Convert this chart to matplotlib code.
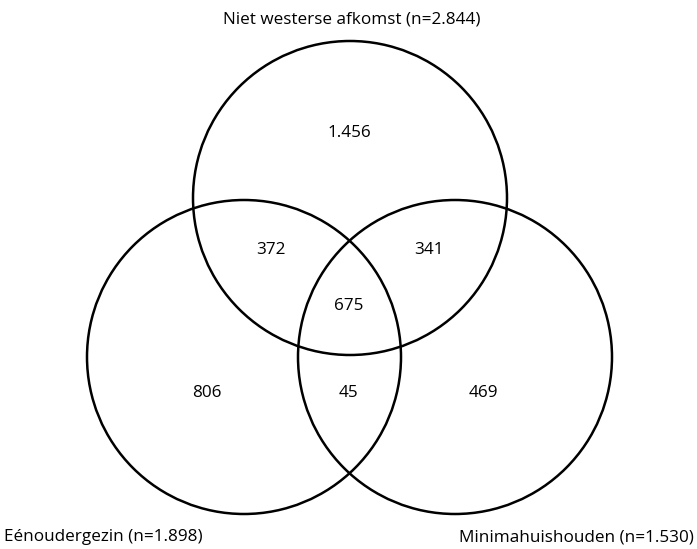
import matplotlib
matplotlib.use("Agg")
import matplotlib.pyplot as plt
from matplotlib.patches import Circle

plt.rcParams['font.family'] = ['Open Sans', 'DejaVu Sans']

# Data
set_names = ["Niet westerse afkomst", "Eénoudergezin", "Minimahuishouden"]
set_totals = ["2.844", "1.898", "1.530"]
region_labels = ["1.456", "806", "469", "372", "341", "45", "675"]  # A, B, C, AB, AC, BC, ABC

W, H = 697, 549
fig = plt.figure(figsize=(W / 100, H / 100), dpi=100)
ax = fig.add_axes([0, 0, 1, 1])
ax.set_xlim(0, W)
ax.set_ylim(H, 0)
ax.axis('off')

# layout (pixels)
centers = [(350, 198), (244, 357), (455, 357)]
radius = 157
for c in centers:
    ax.add_patch(Circle(c, radius, fill=False, edgecolor='black', linewidth=1.8))

region_pos = [(349, 131), (207, 391), (483, 391), (271, 248), (429, 248), (348, 391), (349, 304)]
fs = 12.3
for (x, y), lab in zip(region_pos, region_labels):
    ax.text(x, y, lab, ha='center', va='center_baseline', fontsize=fs, color='black')

ax.text(352, 18, f"{set_names[0]} (n={set_totals[0]})", ha='center', va='center_baseline', fontsize=fs)
ax.text(4, 535, f"{set_names[1]} (n={set_totals[1]})", ha='left', va='center_baseline', fontsize=fs)
ax.text(694, 535, f"{set_names[2]} (n={set_totals[2]})", ha='right', va='center_baseline', fontsize=fs)

fig.savefig("out.png", dpi=100, facecolor='white')
